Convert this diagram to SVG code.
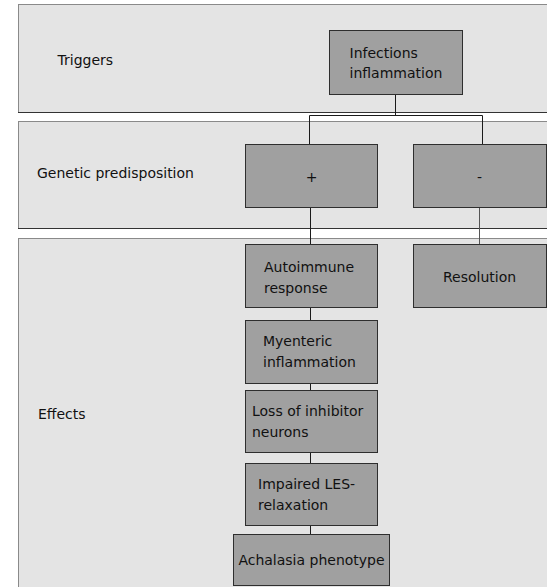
<svg xmlns="http://www.w3.org/2000/svg" width="547" height="587" viewBox="0 0 547 587">
<style>
.panel{fill:#e4e4e4;stroke:#8a8a8a;stroke-width:1}
.pbot{stroke:#333;stroke-width:1}
.box{fill:#a0a0a0;stroke:#2e2e2e;stroke-width:1}
text{font-family:"DejaVu Sans","Verdana",sans-serif;font-size:14px;fill:#111}
.conn{fill:none;stroke:#1a1a1a;stroke-width:1}
</style>
<rect width="547" height="587" fill="#ffffff"/>
<g id="panel-triggers">
<rect class="panel" x="18.5" y="4.5" width="540" height="108"/>
<line class="pbot" x1="18" y1="112.5" x2="547" y2="112.5"/>
<text x="57.5" y="64.5">Triggers</text>
</g>
<g id="panel-genetic">
<rect class="panel" x="18.5" y="121.5" width="540" height="107"/>
<line class="pbot" x1="18" y1="228.5" x2="547" y2="228.5"/>
<text x="37" y="177.5">Genetic predisposition</text>
</g>
<g id="panel-effects">
<rect class="panel" x="18.5" y="238.5" width="540" height="360"/>
<text x="38" y="419">Effects</text>
</g>
<g id="connectors">
<polyline class="conn" points="395.5,94.5 395.5,115.5"/>
<polyline class="conn" points="309.5,144.5 309.5,115.5 482.5,115.5 482.5,145.5"/>
<line class="conn" x1="310.5" y1="207.5" x2="310.5" y2="244.5"/>
<line class="conn" x1="479.5" y1="207.5" x2="479.5" y2="244.5" style="stroke:#555"/>
<line class="conn" x1="310.5" y1="307.5" x2="310.5" y2="320.5"/>
<line class="conn" x1="310.5" y1="383.5" x2="310.5" y2="390.5"/>
<line class="conn" x1="310.5" y1="452.5" x2="310.5" y2="463.5"/>
<line class="conn" x1="310.5" y1="525.5" x2="310.5" y2="534.5"/>
</g>
<g id="node-infections">
<rect class="box" x="329.5" y="30.5" width="133" height="64"/>
<text x="349.5" y="57.5">Infections</text>
<text x="349.5" y="77.5">inflammation</text>
</g>
<g id="node-plus">
<rect class="box" x="245.5" y="144.5" width="132" height="63"/>
<text x="311.5" y="182" text-anchor="middle">+</text>
</g>
<g id="node-minus">
<rect class="box" x="413.5" y="144.5" width="133" height="63"/>
<text x="479.5" y="182" text-anchor="middle">-</text>
</g>
<g id="node-autoimmune">
<rect class="box" x="245.5" y="244.5" width="132" height="63"/>
<text x="264" y="271.5">Autoimmune</text>
<text x="264" y="292.5">response</text>
</g>
<g id="node-resolution">
<rect class="box" x="413.5" y="244.5" width="133" height="63"/>
<text x="479.5" y="281.5" text-anchor="middle">Resolution</text>
</g>
<g id="node-myenteric">
<rect class="box" x="245.5" y="320.5" width="132" height="63"/>
<text x="263" y="346">Myenteric</text>
<text x="263" y="367">inflammation</text>
</g>
<g id="node-loss">
<rect class="box" x="245.5" y="390.5" width="132" height="62"/>
<text x="252" y="416">Loss of inhibitor</text>
<text x="252" y="437">neurons</text>
</g>
<g id="node-impaired">
<rect class="box" x="245.5" y="463.5" width="132" height="62"/>
<text x="258" y="488.5">Impaired LES-</text>
<text x="258" y="509.5">relaxation</text>
</g>
<g id="node-achalasia">
<rect class="box" x="233.5" y="534.5" width="156" height="51"/>
<text x="311.5" y="565" text-anchor="middle">Achalasia phenotype</text>
</g>
</svg>
